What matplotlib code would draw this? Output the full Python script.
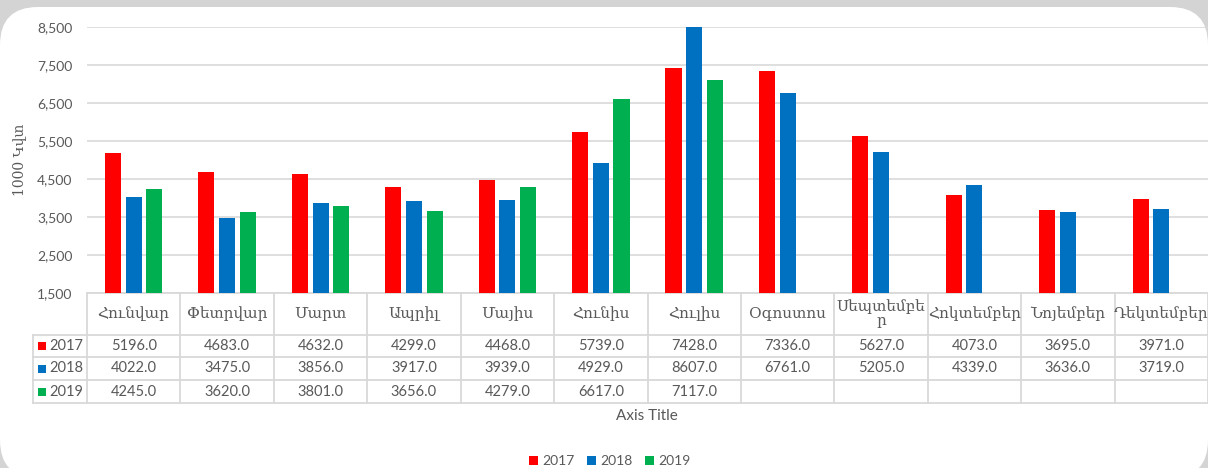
import matplotlib.pyplot as plt
import numpy as np
from matplotlib.patches import FancyBboxPatch, Rectangle, Patch
from matplotlib.lines import Line2D

months = ['Հունվար', 'Փետրվար', 'Մարտ', 'Ապրիլ', 'Մայիս', 'Հունիս', 'Հուլիս',
          'Օգոստոս', 'Սեպտեմբե\nր', 'Հոկտեմբեր', 'Նոյեմբեր', 'Դեկտեմբեր']
years = ['2017', '2018', '2019']
v2017 = [5196, 4683, 4632, 4299, 4468, 5739, 7428, 7336, 5627, 4073, 3695, 3971]
v2018 = [4022, 3475, 3856, 3917, 3939, 4929, 8607, 6761, 5205, 4339, 3636, 3719]
v2019 = [4245, 3620, 3801, 3656, 4279, 6617, 7117, None, None, None, None, None]
yticks = [1500, 2500, 3500, 4500, 5500, 6500, 7500, 8500]
colors = ['#ff0000', '#0070c0', '#00b050']

W, H = 1208, 468
txt = '#595959'
grid = '#d9d9d9'
num_font = ['Lato', 'DejaVu Sans']
arm_font = ['DejaVu Serif', 'DejaVu Sans']

fig = plt.figure(figsize=(W / 100, H / 100), dpi=100, facecolor='#d4d4d4')

# white rounded card behind everything
card = FancyBboxPatch((0.0, -0.1), W / 100, (H - 7) / 100 + 0.1,
                      boxstyle='round,pad=0,rounding_size=0.38',
                      transform=fig.dpi_scale_trans, facecolor='white',
                      edgecolor='none', zorder=-5)
fig.patches.append(card)


def fx(px):
    return px / W


def fy(py):
    return 1 - py / H


left, right, top, bottom = 87, 1208, 27, 293
ax = fig.add_axes([fx(left), fy(bottom), fx(right) - fx(left), (bottom - top) / H])
ax.set_facecolor('none')
ax.set_zorder(2)

x = np.arange(len(months))
series = [v2017, v2018, v2019]
bw = 0.172
for k, vals in enumerate(series):
    h = np.array([np.nan if v is None else v for v in vals], dtype=float)
    ax.bar(x + (k - 1) * 0.222, h, width=bw, color=colors[k], zorder=3)

ax.set_xlim(-0.5, len(months) - 0.5)
ax.set_ylim(1500, 8500)
ax.set_yticks(yticks)
ax.set_yticklabels([f'{t:,}' for t in yticks], fontsize=10, color=txt, family=num_font)
ax.tick_params(axis='y', length=0, pad=10.5)
ax.set_xticks([])
ax.yaxis.grid(True, color=grid, linewidth=1.2)
ax.set_axisbelow(True)
for s in ax.spines.values():
    s.set_visible(False)

fig.text(fx(19), fy(160), '1000 Կվտ', rotation=90, ha='center', va='center',
         fontsize=10, color=txt, family=arm_font)

# data table
colw = (right - left) / len(months)
rows_y = [293, 335, 357, 380, 403]
line_kw = dict(color=grid, linewidth=1.3, transform=fig.transFigure)
fig.add_artist(Line2D([fx(left), fx(right)], [fy(293), fy(293)], **line_kw))
for yy in rows_y[1:]:
    fig.add_artist(Line2D([fx(33), fx(right)], [fy(yy), fy(yy)], **line_kw))
fig.add_artist(Line2D([fx(33), fx(33)], [fy(335), fy(403)], **line_kw))
for i in range(len(months) + 1):
    xx = left + i * colw
    fig.add_artist(Line2D([fx(xx), fx(xx)], [fy(293), fy(403)], **line_kw))

for i, m in enumerate(months):
    cx = left + (i + 0.5) * colw
    fig.text(fx(cx), fy(314), m, ha='center', va='center', fontsize=11,
             color=txt, family=arm_font, linespacing=1.0)
    for r, vals in enumerate(series):
        cy = (rows_y[r + 1] + rows_y[r + 2]) / 2
        if vals[i] is not None:
            fig.text(fx(cx), fy(cy), f'{vals[i]:.1f}', ha='center', va='center',
                     fontsize=10.5, color=txt, family=num_font)

for r, yr in enumerate(years):
    cy = (rows_y[r + 1] + rows_y[r + 2]) / 2
    fig.patches.append(Rectangle((fx(38), fy(cy + 4)), 8 / W, 8 / H,
                                 transform=fig.transFigure, facecolor=colors[r],
                                 edgecolor='none'))
    fig.text(fx(49), fy(cy), yr, ha='left', va='center', fontsize=10.5,
             color=txt, family=num_font)

fig.text(fx(647), fy(416), 'Axis Title', ha='center', va='center',
         fontsize=11, color=txt, family=num_font)

handles = [Patch(facecolor=c, edgecolor='none') for c in colors]
leg = fig.legend(handles, years, loc='center', bbox_to_anchor=(fx(610), fy(461)),
                 ncol=3, frameon=False, handlelength=0.6, handleheight=0.6,
                 handletextpad=0.35, columnspacing=0.9,
                 prop={'family': num_font, 'size': 10})
for t in leg.get_texts():
    t.set_color(txt)

fig.savefig('out.png', dpi=100, facecolor=fig.get_facecolor())
